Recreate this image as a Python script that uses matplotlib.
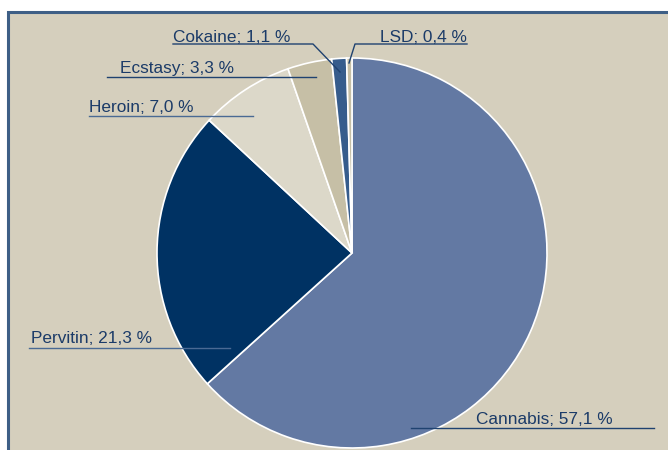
import matplotlib.pyplot as plt
from matplotlib.patches import Rectangle

# data
drugs = ["Cannabis", "Pervitin", "Heroin", "Ecstasy", "Cokaine", "LSD"]
shares = [57.1, 21.3, 7.0, 3.3, 1.1, 0.4]
labels = ["Cannabis; 57,1 %", "Pervitin; 21,3 %", "Heroin; 7,0 %",
          "Ecstasy; 3,3 %", "Cokaine; 1,1 %", "LSD; 0,4 %"]
colors = ["#6379a3", "#003263", "#dcd8c9", "#c6bfa6", "#365c8c", "#c6bfa6"]

W, H = 668, 450
BG = "#d5cfbd"
TXT = "#1b3b68"

fig = plt.figure(figsize=(W / 100, H / 100), dpi=100)
fig.patch.set_facecolor("white")
ax = fig.add_axes([0, 0, 1, 1])


def py(y):
    # pixel row -> data y
    return H - y


# panel background with blue top/left border
ax.add_patch(Rectangle((8, -20), W + 20, py(12) + 20, facecolor=BG,
                       edgecolor="#3e5f86", linewidth=2.2, zorder=0))

ax.pie(shares, colors=colors, startangle=90, counterclock=False,
       center=(352, py(253)), radius=195, frame=True,
       wedgeprops=dict(edgecolor="white", linewidth=1.2))
ax.set_xlim(0, W)
ax.set_ylim(0, H)
ax.set_aspect("equal")
ax.axis("off")

# label text (x, baseline y, align) and leader lines (pixel coords)
label_pos = {
    "Cannabis": (476, 424, "left"),
    "Pervitin": (31, 343, "left"),
    "Heroin": (89, 112, "left"),
    "Ecstasy": (120, 73, "left"),
    "Cokaine": (173, 42, "left"),
    "LSD": (467, 42, "right"),
}
leaders = {
    "Cannabis": [(411, 428), (654, 428)],
    "Pervitin": [(29, 348), (230, 348)],
    "Heroin": [(89, 116), (253, 116)],
    "Ecstasy": [(107, 77), (316, 77)],
    "Cokaine": [(173, 44), (313, 44), (340, 72)],
    "LSD": [(467, 44), (355, 44), (349, 63)],
}
line_col = {"Pervitin": "#4a6a94", "Heroin": "#4a6a94"}

for name, lab in zip(drugs, labels):
    x, y, ha = label_pos[name]
    ax.text(x, py(y), lab, color=TXT, fontsize=12.4, family="Liberation Sans",
            ha=ha, va="baseline", zorder=5)
    pts = leaders[name]
    ax.plot([p[0] for p in pts], [py(p[1]) for p in pts],
            color=line_col.get(name, "#1f4270"), linewidth=1.0, zorder=4)

fig.savefig("out.png", dpi=100, facecolor="white")
